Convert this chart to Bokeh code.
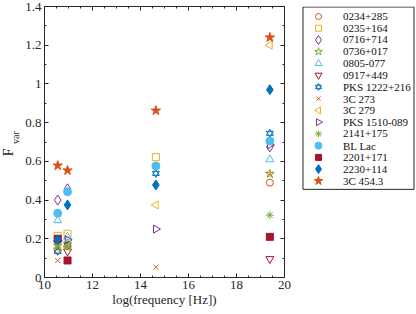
import math
from bokeh.plotting import figure
from bokeh.layouts import row
from bokeh.models import LinearAxis, FixedTicker, Range1d, CustomJSTickFormatter
from bokeh.core.properties import value
from bokeh.embed import file_html
from bokeh.resources import INLINE

nan = float("nan")

# log(frequency [Hz]) positions of the four bands
freq = [10.55, 10.96, 14.64, 19.39]

names = ["0234+285", "0235+164", "0716+714", "0736+017", "0805-077", "0917+449",
         "PKS 1222+216", "3C 273", "3C 279", "PKS 1510-089", "2141+175", "BL Lac",
         "2201+171", "2230+114", "3C 454.3"]

f_0234_285 = [0.14, 0.165, nan, 0.49]
f_0235_164 = [0.215, 0.226, 0.622, nan]
f_0716_714 = [0.40, 0.458, nan, 0.675]
f_0736_017 = [0.165, 0.175, nan, 0.535]
f_0805_077 = [0.295, 0.21, nan, 0.61]
f_0917_449 = [0.18, 0.135, nan, 0.096]
f_pks1222 = [0.135, 0.165, 0.538, 0.745]
f_3c273 = [0.088, nan, 0.053, 0.535]
f_3c279 = [0.15, 0.16, 0.375, 1.20]
f_pks1510 = [0.19, 0.195, 0.25, 0.685]
f_2141_175 = [0.17, 0.16, nan, 0.322]
f_bllac = [0.332, 0.443, 0.576, 0.705]
f_2201_171 = [0.20, 0.088, nan, 0.21]
f_2230_114 = [0.195, 0.375, 0.478, 0.97]
f_3c454 = [0.578, 0.553, 0.862, 1.24]

series = [f_0234_285, f_0235_164, f_0716_714, f_0736_017, f_0805_077, f_0917_449,
          f_pks1222, f_3c273, f_3c279, f_pks1510, f_2141_175, f_bllac,
          f_2201_171, f_2230_114, f_3c454]

x_ticks = [10, 12, 14, 16, 18, 20]
x_minor = [10 + 0.5 * i for i in range(21)]
y_ticks = [0, 0.2, 0.4, 0.6, 0.8, 1.0, 1.2, 1.4]
y_minor = [round(0.1 * i, 1) for i in range(15)]
y_labels = {0: "0", 0.2: "0.2", 0.4: "0.4", 0.6: "0.6", 0.8: "0.8", 1.0: "1", 1.2: "1.2", 1.4: "1.4"}

# marker, color, filled, angle, size
styles = [
    ("circle", "#D95319", False, 0, 7),
    ("square", "#EDB120", False, 0, 7),
    ("diamond", "#7E2F8E", False, 0, 10),
    ("star", "#77AC30", False, 0, 9),
    ("triangle", "#4DBEEE", False, 0, 8),
    ("inverted_triangle", "#A2142F", False, 0, 8),
    ("hexagram", "#0072BD", False, 0, 7),
    ("x", "#D95319", False, 0, 7),
    ("triangle", "#EDB120", False, math.pi / 2, 8),
    ("triangle", "#7E2F8E", False, -math.pi / 2, 8),
    ("asterisk", "#77AC30", False, 0, 8),
    ("circle", "#4DBEEE", True, 0, 8),
    ("square", "#A2142F", True, 0, 7),
    ("diamond", "#0072BD", True, 0, 10),
    ("star", "#D95319", True, 0, 10),
]

FONT = "Liberation Serif"
AX = "#262626"
H = 314


def bare(w, yr):
    f = figure(width=w, height=H, output_backend="svg", toolbar_location=None,
               x_range=Range1d(0, w), y_range=yr, min_border=0,
               x_axis_location=None, y_axis_location=None)
    f.xgrid.visible = False
    f.ygrid.visible = False
    f.outline_line_color = None
    return f


def draw_marker(fig, x, y, mk, col, filled, ang, sz):
    fill = col if filled else None
    if mk == "hexagram":
        fig.scatter(x, y, marker="triangle", size=sz, line_color=col, fill_color=None, line_width=1)
        fig.scatter(x, y, marker="inverted_triangle", size=sz, line_color=col, fill_color=None, line_width=1)
    else:
        fig.scatter(x, y, marker=mk, size=sz, angle=ang, line_color=col, fill_color=fill, line_width=1)


# --- main plot ---
p = figure(width=274, height=H, output_backend="svg", toolbar_location=None,
           x_range=Range1d(10, 20), y_range=Range1d(0, 1.4),
           min_border_left=20, min_border_right=12, min_border_top=6, min_border_bottom=37)
p.xgrid.visible = False
p.ygrid.visible = False
p.outline_line_color = AX

xt = FixedTicker(ticks=x_ticks, minor_ticks=x_minor)
yt = FixedTicker(ticks=y_ticks, minor_ticks=y_minor)
p.xaxis.ticker = xt
p.yaxis.ticker = yt
p.yaxis.major_label_overrides = y_labels
p.xaxis.axis_label = "log(frequency [Hz])"
p.xaxis.axis_label_text_font = FONT
p.xaxis.axis_label_text_font_style = "normal"
p.xaxis.axis_label_text_font_size = "13px"
p.xaxis.axis_label_standoff = 0
p.xaxis.axis_label_text_color = AX

for ax in [p.xaxis[0], p.yaxis[0]]:
    ax.major_label_text_font = FONT
    ax.major_label_text_font_size = "13px"
    ax.major_label_text_color = AX
    ax.major_tick_in = 4
    ax.major_tick_out = 0
    ax.minor_tick_in = 2
    ax.minor_tick_out = 0
    ax.axis_line_color = AX
    ax.major_tick_line_color = AX
    ax.minor_tick_line_color = AX
p.yaxis.major_label_standoff = 3
p.xaxis.major_label_standoff = 3

blank = CustomJSTickFormatter(code="return ''")
for side, tk in [("above", xt), ("right", yt)]:
    a = LinearAxis(ticker=tk, formatter=blank, major_tick_in=4, major_tick_out=0,
                   minor_tick_in=2, minor_tick_out=0, axis_line_color=AX,
                   major_tick_line_color=AX, minor_tick_line_color=AX, major_label_standoff=0)
    p.add_layout(a, side)

for vals, (mk, col, filled, ang, sz) in zip(series, styles):
    draw_marker(p, freq, vals, mk, col, filled, ang, sz)

# --- narrow figure holding the rotated y label F_var (frame aligned with main plot) ---
lab = bare(22, p.y_range)
lab.text(x=[7.5], y=[0.646], text=["F"], angle=math.pi / 2, text_align="center",
         text_baseline="middle", text_font=value(FONT), text_font_size="14px", text_color=AX)
lab.text(x=[15], y=[0.723], text=["var"], angle=math.pi / 2, text_align="center",
         text_baseline="middle", text_font=value(FONT), text_font_size="10px", text_color=AX)

# --- legend figure (frame aligned with the main plot frame, 1 data unit = 1 px) ---
leg = bare(120, Range1d(0, 271))
n = len(names)
pitch = 11.74
top_row = 261.0
row_y = [top_row - i * pitch for i in range(n)]
leg.quad(left=[6.5], right=[117.5], top=[270.5], bottom=[top_row - (n - 1) * pitch - 8.5],
         fill_color="white", line_color=AX, line_width=1)
for yy, (mk, col, filled, ang, sz) in zip(row_y, styles):
    draw_marker(leg, [22], [yy], mk, col, filled, ang, sz - 1)
leg.text(x=[46.5] * n, y=row_y, text=names, text_align="left", text_baseline="middle",
         text_font=value(FONT), text_font_size="11px", text_color="#111111")

layout = row(lab, p, leg, spacing=0)
open("out.html", "w").write(file_html(layout, INLINE))
